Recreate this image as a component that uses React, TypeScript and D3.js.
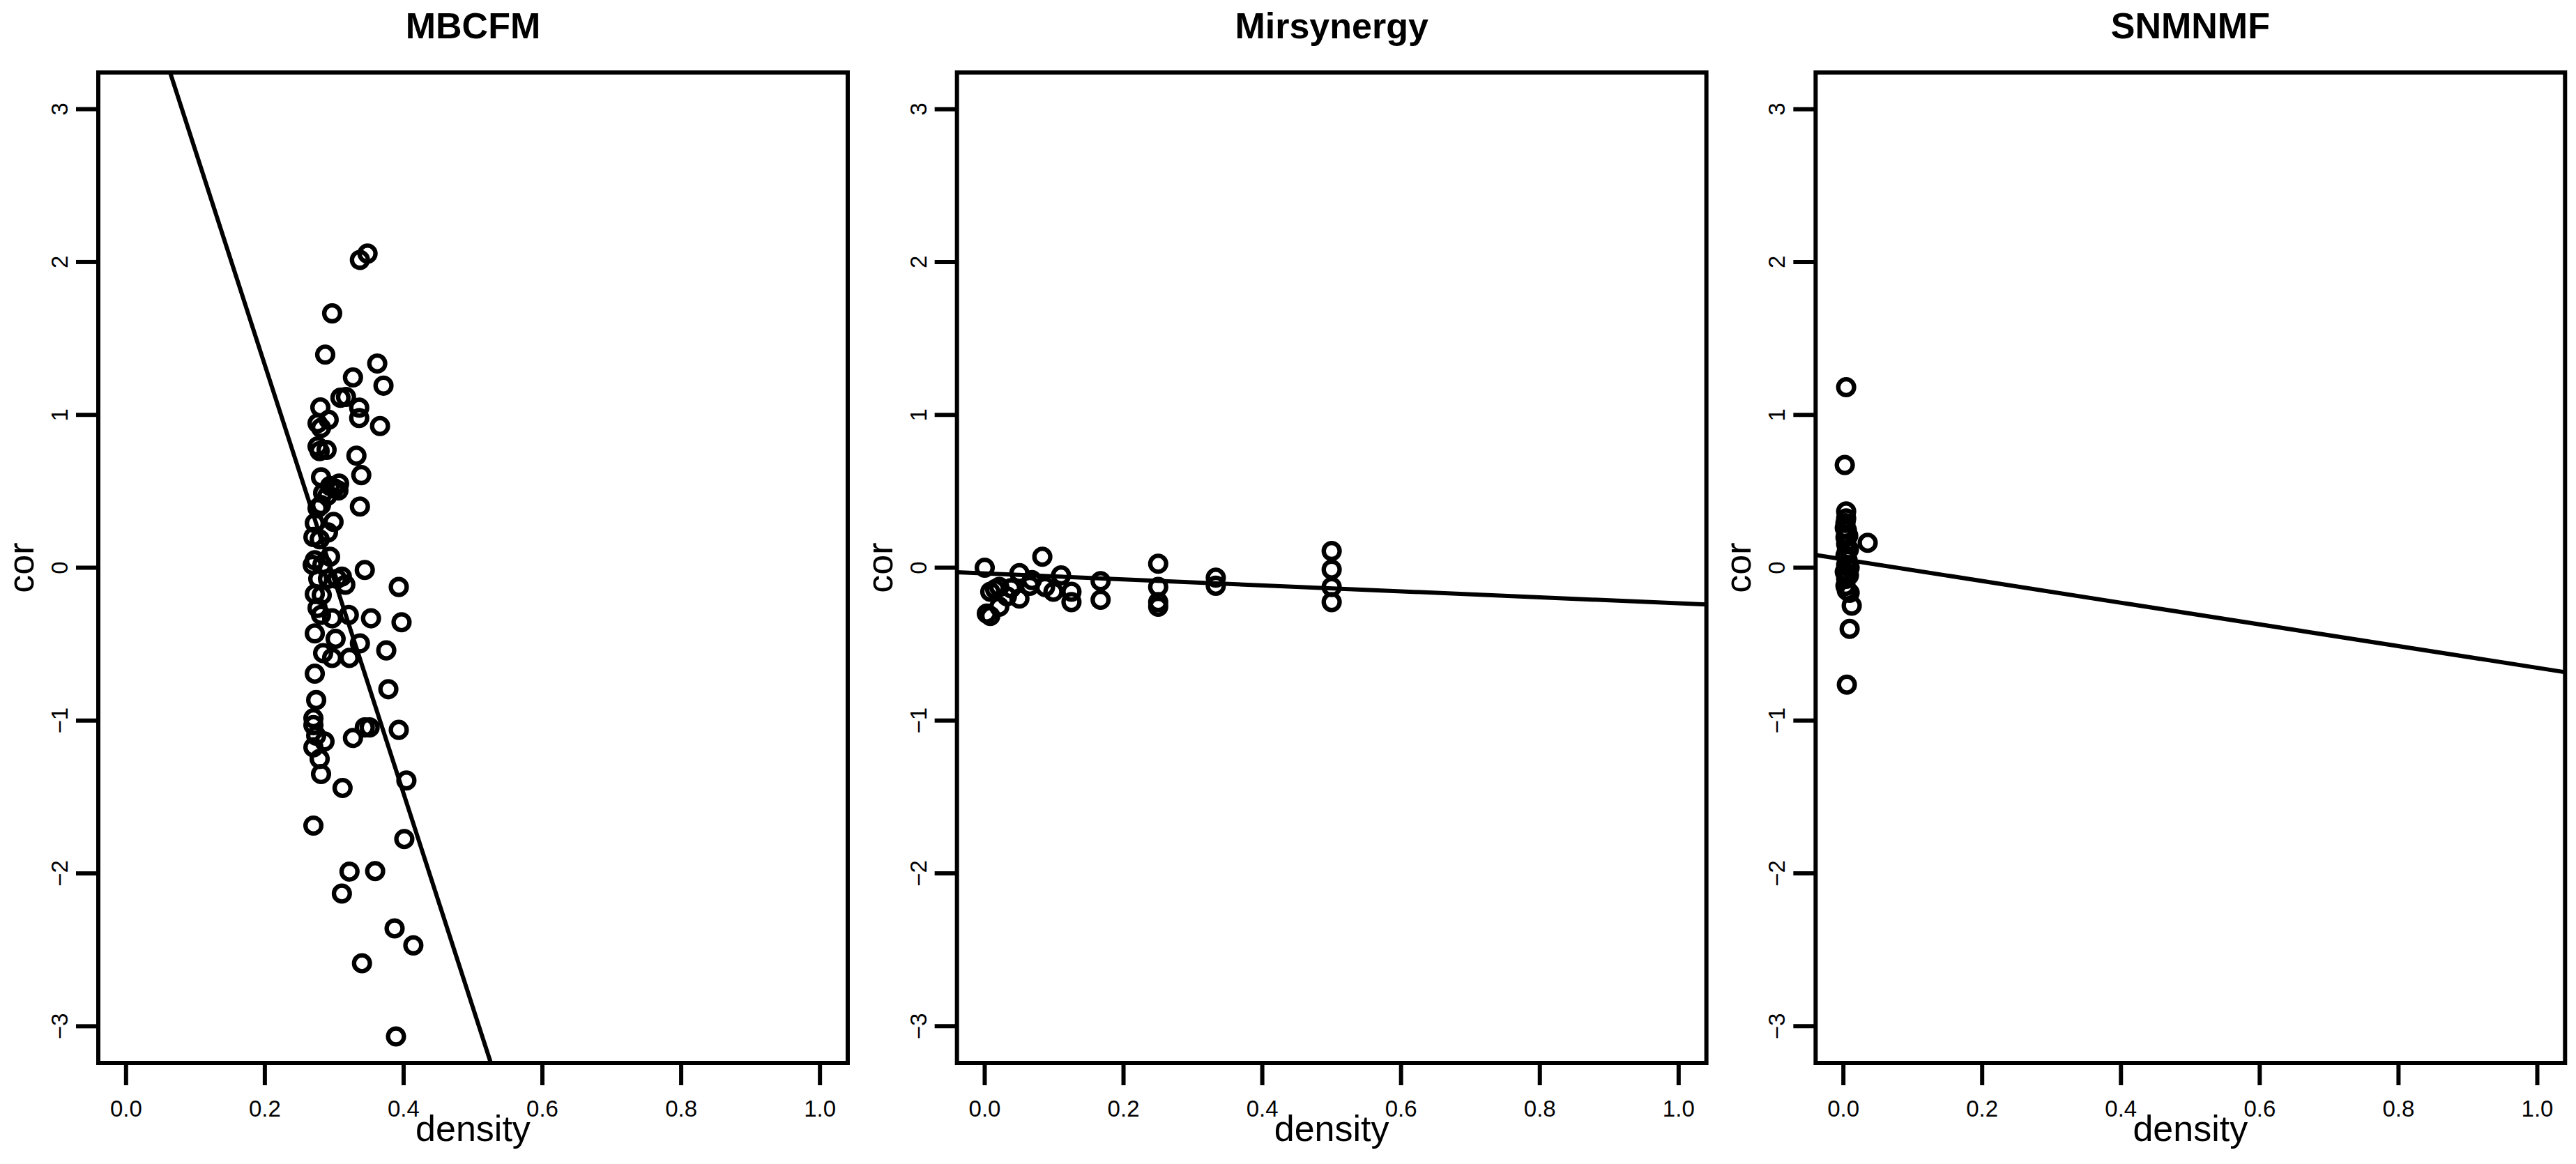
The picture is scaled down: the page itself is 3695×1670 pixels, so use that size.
import { useEffect } from "react";
import * as d3 from "d3";

// MBCFM: density vs cor
const mbcfmDensity = [
  0.348, 0.337, 0.297, 0.287, 0.362, 0.327, 0.371, 0.309, 0.317, 0.280,
  0.336, 0.336, 0.366, 0.292, 0.276, 0.281, 0.276, 0.289, 0.279, 0.332,
  0.339, 0.281, 0.294, 0.307, 0.306, 0.284, 0.337, 0.300, 0.290, 0.281,
  0.276, 0.272, 0.299, 0.291, 0.270, 0.279, 0.294, 0.272, 0.269, 0.283,
  0.344, 0.277, 0.291, 0.311, 0.316, 0.304, 0.393, 0.272, 0.282, 0.276,
  0.281, 0.297, 0.321, 0.353, 0.397, 0.272, 0.302, 0.337, 0.284, 0.297,
  0.322, 0.375, 0.272, 0.378, 0.274, 0.270, 0.270, 0.344, 0.351, 0.393,
  0.327, 0.286, 0.270, 0.274, 0.279, 0.281, 0.404, 0.312, 0.270, 0.401,
  0.322, 0.359, 0.311, 0.387, 0.414, 0.340, 0.389,
];
const mbcfmCor = [
  2.055, 2.014, 1.664, 1.394, 1.336, 1.245, 1.191, 1.112, 1.117, 1.049,
  1.047, 0.979, 0.927, 0.968, 0.945, 0.915, 0.793, 0.771, 0.763, 0.733,
  0.606, 0.591, 0.535, 0.550, 0.505, 0.489, 0.400, 0.520, 0.470, 0.410,
  0.390, 0.292, 0.300, 0.231, 0.201, 0.186, 0.072, 0.049, 0.018, 0.020,
  -0.015, -0.073, -0.073, -0.058, -0.111, -0.073, -0.126, -0.172, -0.179, -0.263,
  -0.309, -0.331, -0.309, -0.331, -0.357, -0.430, -0.465, -0.495, -0.559, -0.590,
  -0.590, -0.541, -0.693, -0.795, -0.866, -0.985, -1.030, -1.045, -1.045, -1.061,
  -1.114, -1.137, -1.175, -1.099, -1.251, -1.350, -1.392, -1.441, -1.687, -1.775,
  -1.988, -1.985, -2.132, -2.360, -2.471, -2.588, -3.067,
];

// Mirsynergy
const mirsynergyDensity = [
  0.000, 0.083, 0.008, 0.003, 0.015, 0.021, 0.008, 0.050, 0.050, 0.038,
  0.065, 0.068, 0.032, 0.021, 0.087, 0.099, 0.110, 0.125, 0.125, 0.167,
  0.167, 0.250, 0.250, 0.250, 0.250, 0.333, 0.333, 0.500, 0.500, 0.500,
  0.500,
];
const mirsynergyCor = [
  0.000, 0.072, -0.316, -0.300, -0.141, -0.126, -0.157, -0.035, -0.202, -0.134,
  -0.118, -0.081, -0.187, -0.255, -0.126, -0.157, -0.050, -0.157, -0.225, -0.088,
  -0.210, 0.026, -0.126, -0.225, -0.255, -0.065, -0.118, 0.109, -0.012, -0.126,
  -0.225,
];

// SNMNMF
const snmnmfDensity = [
  0.004, 0.002, 0.004, 0.004, 0.003, 0.005, 0.003, 0.004, 0.005, 0.003,
  0.004, 0.002, 0.004, 0.003, 0.005, 0.035, 0.012, 0.009, 0.005, 0.009,
  0.006, 0.007, 0.002, 0.008, 0.009, 0.008,
];
const snmnmfCor = [
  1.181, 0.672, 0.368, 0.322, 0.292, 0.246, 0.200, 0.155, 0.109, 0.079,
  0.018, -0.027, -0.073, -0.119, -0.149, 0.163, -0.248, -0.400, -0.765, -0.164,
  0.050, 0.210, 0.260, 0.120, 0.000, -0.050,
];

// fitted lines: [intercept, slope]
const mbcfmFit = [4.13, -14.02];
const mirsynergyFit = [-0.037, -0.196];
const snmnmfFit = [0.055, -0.71];

const titles = ["MBCFM", "Mirsynergy", "SNMNMF"];
const xTicks = [0, 0.2, 0.4, 0.6, 0.8, 1.0];
const yTicks = [-3, -2, -1, 0, 1, 2, 3];

const W = 3695;
const H = 1670;
const panelW = W / 3;
const margin = { top: 104, right: 15.7, bottom: 145, left: 141 };
const font = "'Liberation Sans', Arial, Helvetica, sans-serif";
const minus = (v: string) => v.replace("-", "\u2212");

function Panel({ idx, xs, ys, fit }: { idx: number; xs: number[]; ys: number[]; fit: number[] }) {
  const x = d3.scaleLinear().domain([-0.04, 1.04]).range([margin.left, panelW - margin.right]);
  const y = d3.scaleLinear().domain([-3.24, 3.24]).range([H - margin.bottom, margin.top]);
  const [x0, x1] = x.domain();
  const [r0, r1] = x.range();
  const [b0, t0] = y.range();
  const cx = (r0 + r1) / 2;
  const cy = (b0 + t0) / 2;
  const clipId = `clip${idx}`;
  const line = d3.line<number>().x(d => x(d)).y(d => y(fit[0] + fit[1] * d));

  return (
    <g transform={`translate(${idx * panelW},0)`}>
      <defs>
        <clipPath id={clipId}>
          <rect x={r0} y={t0} width={r1 - r0} height={b0 - t0} />
        </clipPath>
      </defs>
      <text x={cx} y={55} textAnchor="middle" fontSize={52} fontWeight="bold" fontFamily={font}>
        {titles[idx]}
      </text>

      {/* points */}
      <g fill="none" stroke="#000" strokeWidth={6.3}>
        {xs.map((d, i) => (
          <circle key={i} cx={x(d)} cy={y(ys[i])} r={11.4} />
        ))}
      </g>

      {/* fitted line */}
      <path d={line([x0, x1]) || ""} fill="none" stroke="#000" strokeWidth={6} clipPath={`url(#${clipId})`} />

      {/* frame */}
      <rect x={r0} y={t0} width={r1 - r0} height={b0 - t0} fill="none" stroke="#000" strokeWidth={6} />

      {/* x axis */}
      {xTicks.map(t => (
        <g key={t}>
          <line x1={x(t)} x2={x(t)} y1={b0} y2={b0 + 32} stroke="#000" strokeWidth={6} />
          <text x={x(t)} y={1602} textAnchor="middle" fontSize={33} fontFamily={font}>
            {d3.format(".1f")(t)}
          </text>
        </g>
      ))}
      <text x={cx} y={1637} textAnchor="middle" fontSize={52} fontFamily={font}>density</text>

      {/* y axis */}
      {yTicks.map(t => (
        <g key={t}>
          <line x1={r0 - 32} x2={r0} y1={y(t)} y2={y(t)} stroke="#000" strokeWidth={6} />
          <text transform={`translate(${r0 - 44},${y(t)}) rotate(-90)`} textAnchor="middle" fontSize={33} fontFamily={font}>
            {minus(String(t))}
          </text>
        </g>
      ))}
      <text transform={`translate(48,${cy}) rotate(-90)`} textAnchor="middle" fontSize={52} fontFamily={font}>cor</text>
    </g>
  );
}

export default function App() {
  useEffect(() => {
    document.body.style.margin = "0";
  }, []);

  return (
    <svg width={W} height={H} viewBox={`0 0 ${W} ${H}`} style={{ display: "block", background: "#fff" }}>
      <rect width={W} height={H} fill="#fff" />
      <Panel idx={0} xs={mbcfmDensity} ys={mbcfmCor} fit={mbcfmFit} />
      <Panel idx={1} xs={mirsynergyDensity} ys={mirsynergyCor} fit={mirsynergyFit} />
      <Panel idx={2} xs={snmnmfDensity} ys={snmnmfCor} fit={snmnmfFit} />
    </svg>
  );
}
